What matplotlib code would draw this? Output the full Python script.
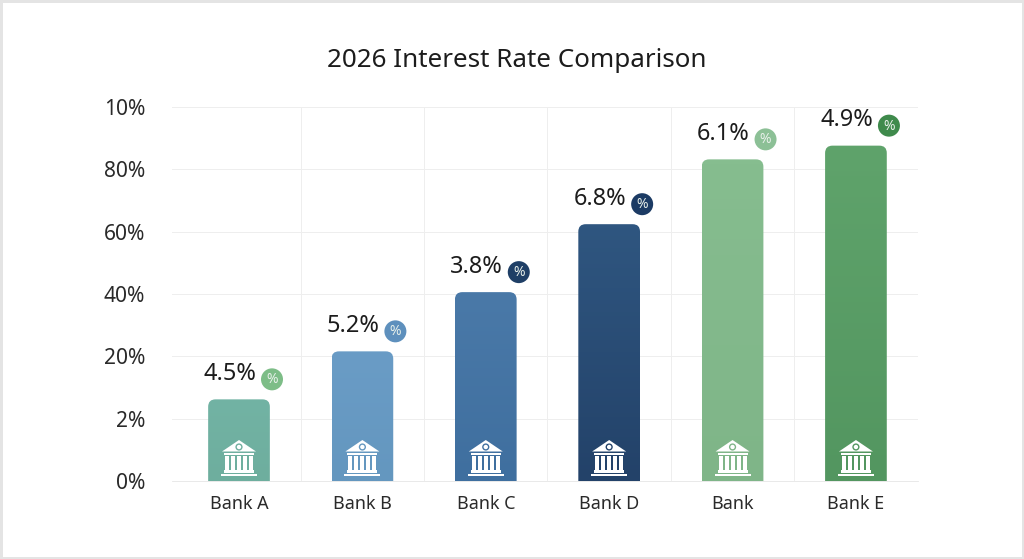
import matplotlib
matplotlib.use('Agg')
import numpy as np
from matplotlib import pyplot as plt
from matplotlib.colors import to_rgb
from matplotlib.patches import Circle, FancyBboxPatch, Polygon, Rectangle
from matplotlib.offsetbox import AnnotationBbox, DrawingArea
from matplotlib.text import Text

plt.rcParams['font.family'] = ['Noto Sans', 'DejaVu Sans']

# the y axis labels are not a real scale in the picture, they are just evenly spaced
y_labels = ['0%', '2%', '20%', '40%', '60%', '80%', '10%']
banks = ['Bank A', 'Bank B', 'Bank C', 'Bank D', 'Bank', 'Bank E']
bar_tops = [1.31, 2.08, 3.03, 4.12, 5.16, 5.38]  # in y axis steps
rates = ['4.5%', '5.2%', '3.8%', '6.8%', '6.1%', '4.9%']
colors_top = ['#72b3a4', '#6a9cc6', '#4a79a8', '#2f5680', '#86bd8f', '#5fa36b']
colors_bottom = ['#6eae9e', '#6497bf', '#3f6f9f', '#234269', '#7fb588', '#539660']
badge_colors = ['#7dbd87', '#5e90bd', '#1f3f66', '#1c3b64', '#8cc096', '#3f8a4c']

W, H = 1024, 559
fig = plt.figure(figsize=(W / 72, H / 72), dpi=72)
ax = fig.add_axes([172 / W, 1 - 481 / H, 746 / W, 374 / H])


def bank_icon(color):
    da = DrawingArea(36, 36, 0, 0)
    da.add_artist(Polygon([(18, 36), (1, 24.5), (35, 24.5)], fc='white', ec='none'))
    da.add_artist(Circle((18, 29), 3.6, fc=color, ec='none'))
    da.add_artist(Circle((18, 29), 2.2, fc='white', ec='none'))
    da.add_artist(Rectangle((3, 21.5), 30, 2, fc='white', ec='none'))
    for cx in [6, 12, 18, 24, 30]:
        da.add_artist(Rectangle((cx - 2, 6.5), 4, 14, fc='white', ec='none'))
    da.add_artist(Rectangle((3, 3.5), 30, 2.2, fc='white', ec='none'))
    da.add_artist(Rectangle((0, 0), 36, 2.4, fc='white', ec='none'))
    return da


def badge(color):
    da = DrawingArea(24, 24, 0, 0)
    da.add_artist(Circle((12, 12), 11, fc=color, ec='none'))
    da.add_artist(Text(12, 11.5, '%', color='#e8f0ea', fontsize=14, ha='center', va='center'))
    return da


x = np.arange(len(banks))
for i in x:
    top = bar_tops[i]
    grad = np.linspace(to_rgb(colors_top[i]), to_rgb(colors_bottom[i]), 64)[:, None, :]
    im = ax.imshow(grad, extent=(i - 0.25, i + 0.25, 0, top), aspect='auto', zorder=2)
    # box goes below zero so only the top corners look rounded
    clip = FancyBboxPatch((i - 0.25, -1), 0.5, top + 1, boxstyle='round,pad=0,rounding_size=0.06',
                          mutation_aspect=1.98, transform=ax.transData, fc='none', ec='none')
    ax.add_patch(clip)
    im.set_clip_path(clip)

    ax.add_artist(AnnotationBbox(bank_icon(colors_bottom[i]), (i, 0), xybox=(0, 23), xycoords='data',
                                 boxcoords='offset points', frameon=False, pad=0, zorder=3))
    ax.annotate(rates[i], (i, top), xytext=(-9, 25.5), textcoords='offset points',
                ha='center', va='center', fontsize=23.5, color='#1c1c1c', zorder=4)
    ax.add_artist(AnnotationBbox(badge(badge_colors[i]), (i, top), xybox=(33, 20), xycoords='data',
                                 boxcoords='offset points', frameon=False, pad=0, zorder=4))

ax.set_xlim(-0.543, 5.503)
ax.set_ylim(0, 6)
ax.set_xticks(x)
ax.set_xticklabels(banks, fontsize=18, color='#2a2a2a')
ax.set_yticks(range(len(y_labels)))
ax.set_yticklabels(y_labels, fontsize=21, color='#2a2a2a')
ax.set_xticks(x[:-1] + 0.5, minor=True)
ax.tick_params(axis='both', which='both', length=0)
ax.tick_params(axis='x', pad=14)
ax.tick_params(axis='y', pad=27)
ax.grid(True, axis='y', color='#eeeeee', lw=1)
ax.grid(True, axis='x', which='minor', color='#eeeeee', lw=1)
ax.set_axisbelow(True)
for name, spine in ax.spines.items():
    spine.set_visible(name == 'bottom')
ax.spines['bottom'].set_color('#e4e4e4')

fig.text(517 / W, 1 - 60.5 / H, '2026 Interest Rate Comparison', ha='center', va='center',
         fontsize=26, color='#1c1c1c')
fig.add_artist(Rectangle((0, 0), 1, 1, transform=fig.transFigure, fc='none', ec='#e4e4e4', lw=5))

fig.savefig('out.png', dpi=72)
